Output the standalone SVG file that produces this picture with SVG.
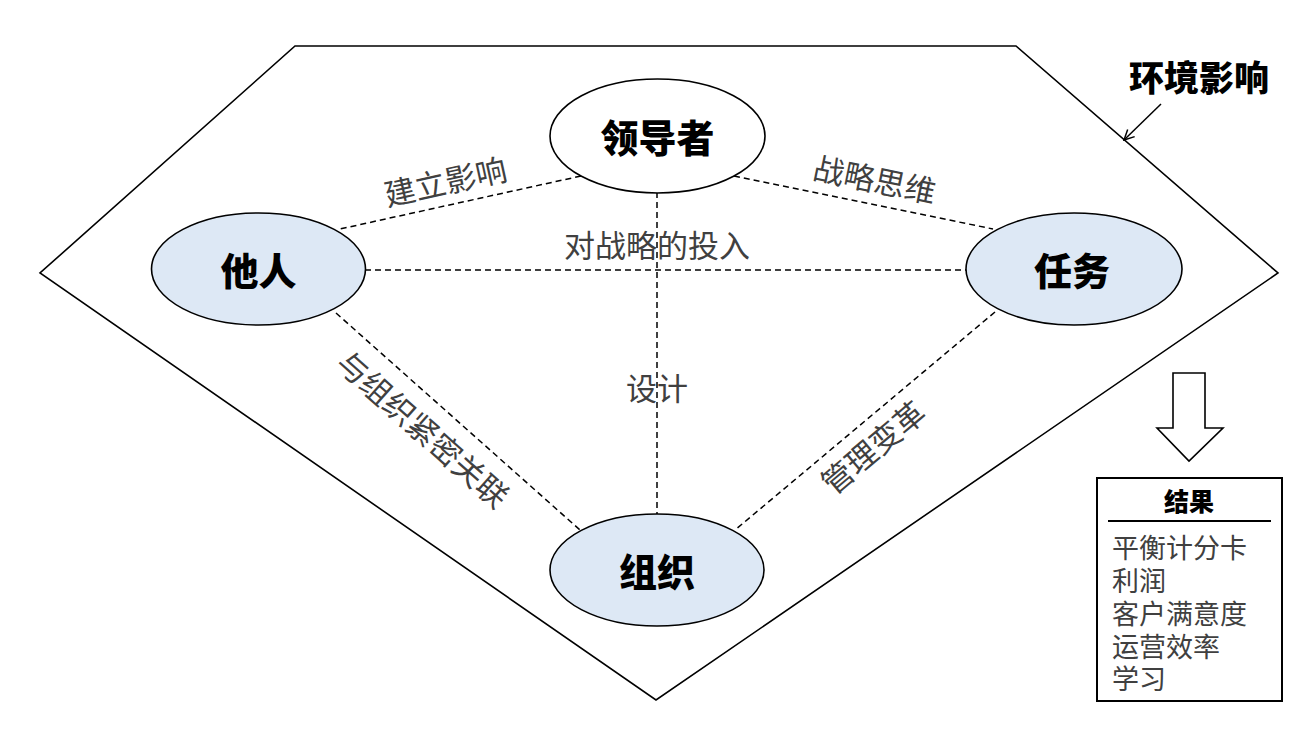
<svg xmlns="http://www.w3.org/2000/svg" width="1314" height="729" viewBox="0 0 1314 729">
<style>
.frame{fill:none;stroke:#000;stroke-width:1.6}
.node{stroke:#000;stroke-width:1.6}
.blue{fill:#dde8f5}
.white{fill:#fff}
.nt{font-family:"Noto Sans CJK SC","Noto Sans",sans-serif;font-weight:900;font-size:38px;fill:#000;text-anchor:middle;dominant-baseline:central}
.dash{fill:none;stroke:#000;stroke-width:1.5;stroke-dasharray:6 4}
.lbl{font-family:"Noto Sans CJK SC","Noto Sans",sans-serif;font-size:31px;fill:#404040;text-anchor:middle;dominant-baseline:central}
.item{font-family:"Noto Sans CJK SC","Noto Sans",sans-serif;font-size:27px;fill:#404040}
</style>
<defs>
<marker id="open" viewBox="0 0 12 12" refX="11" refY="6" markerWidth="12" markerHeight="12" markerUnits="userSpaceOnUse" orient="auto">
<path d="M1,1 L11,6 L1,11" fill="none" stroke="#000" stroke-width="1.5"/>
</marker>
</defs>
<rect width="1314" height="729" fill="#fff"/>
<g id="environment">
<polygon class="frame" points="295,46 1016,46 1278,273 656,700 40,273"/>
<text x="1199" y="75" font-family="'Noto Sans CJK SC',sans-serif" font-weight="900" font-size="35" text-anchor="middle" dominant-baseline="central">环境影响</text>
<line x1="1161" y1="104" x2="1124" y2="140" stroke="#000" stroke-width="1.5" marker-end="url(#open)"/>
</g>
<g id="connectors">
<line class="dash" x1="365" y1="270" x2="966" y2="270"/>
<line class="dash" x1="657" y1="192" x2="657" y2="514"/>
<line class="dash" x1="581" y1="176" x2="340" y2="229"/>
<line class="dash" x1="734" y1="176" x2="993" y2="229"/>
<line class="dash" x1="336" y1="313" x2="580" y2="530"/>
<line class="dash" x1="995" y1="312" x2="735" y2="530"/>
<text class="lbl" transform="translate(445,180) rotate(-12.4)">建立影响</text>
<text class="lbl" transform="translate(875,178) rotate(11.6)">战略思维</text>
<text class="lbl" x="657" y="243">对战略的投入</text>
<text class="lbl" x="657" y="386">设计</text>
<text class="lbl" transform="translate(424,428) rotate(41.6)">与组织紧密关联</text>
<text class="lbl" transform="translate(872,446) rotate(-40)">管理变革</text>
</g>
<g id="leader">
<ellipse class="node white" cx="657.5" cy="136" rx="107.5" ry="57"/>
<text class="nt" x="657.5" y="135">领导者</text>
</g>
<g id="others">
<ellipse class="node blue" cx="258.5" cy="269" rx="107" ry="56"/>
<text class="nt" x="258.5" y="268">他人</text>
</g>
<g id="task">
<ellipse class="node blue" cx="1074" cy="269" rx="108" ry="56"/>
<text class="nt" x="1072" y="268">任务</text>
</g>
<g id="organization">
<ellipse class="node blue" cx="657" cy="570" rx="107" ry="56"/>
<text class="nt" x="657" y="569">组织</text>
</g>
<g id="result-arrow">
<polygon points="1173,373 1205,373 1205,428 1223,428 1189,461 1157,428 1173,428" fill="#fff" stroke="#000" stroke-width="1.6"/>
</g>
<g id="results">
<rect x="1097" y="478" width="185" height="223" fill="#fff" stroke="#000" stroke-width="2"/>
<text x="1189" y="500" font-family="'Noto Sans CJK SC',sans-serif" font-weight="900" font-size="25" text-anchor="middle" dominant-baseline="central">结果</text>
<line x1="1108" y1="521" x2="1271" y2="521" stroke="#000" stroke-width="2"/>
<text class="item" x="1112" y="558">平衡计分卡</text>
<text class="item" x="1112" y="591">利润</text>
<text class="item" x="1112" y="624">客户满意度</text>
<text class="item" x="1112" y="657">运营效率</text>
<text class="item" x="1112" y="689">学习</text>
</g>
</svg>
